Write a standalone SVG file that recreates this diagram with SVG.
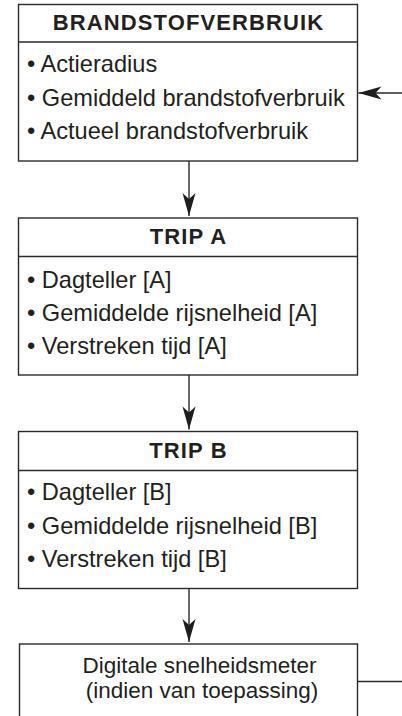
<svg xmlns="http://www.w3.org/2000/svg" width="402" height="716" viewBox="0 0 402 716">
  <style>
    .box { fill: #ffffff; stroke: #2a2a2a; stroke-width: 1.4; }
    .div { stroke: #2a2a2a; stroke-width: 1.4; }
    .hdr { font-family: "Liberation Sans", Arial, sans-serif; font-weight: bold; font-size: 22px; letter-spacing: 1.1px; fill: #231f20; text-anchor: middle; }
    .item { font-family: "Liberation Sans", Arial, sans-serif; font-size: 23.6px; fill: #231f20; }
    .ctr { font-family: "Liberation Sans", Arial, sans-serif; font-size: 22.5px; fill: #231f20; text-anchor: middle; }
    .conn { fill: none; stroke: #2a2a2a; stroke-width: 1.4; }
  </style>
  <defs>
    <marker id="arrow" viewBox="-24 -8 25 16" refX="0" refY="0" markerWidth="25" markerHeight="16" markerUnits="userSpaceOnUse" orient="auto">
      <path d="M0,0 L-23,-6.5 L-17,0 L-23,6.5 Z" fill="#1e1e1e"/>
    </marker>
  </defs>
  <rect width="402" height="716" fill="#ffffff"/>

  <g id="brandstofverbruik">
    <rect class="box" x="18.5" y="4.5" width="339" height="156.5"/>
    <line class="div" x1="18.5" y1="42" x2="357.5" y2="42"/>
    <text class="hdr" x="188.5" y="30">BRANDSTOFVERBRUIK</text>
    <text class="item" x="27" y="72">• Actieradius</text>
    <text class="item" x="27" y="105.5">• Gemiddeld brandstofverbruik</text>
    <text class="item" x="27" y="138.5">• Actueel brandstofverbruik</text>
  </g>

  <g id="trip-a">
    <rect class="box" x="18.5" y="218" width="339" height="157"/>
    <line class="div" x1="18.5" y1="256.5" x2="357.5" y2="256.5"/>
    <text class="hdr" x="188.5" y="244">TRIP A</text>
    <text class="item" x="27" y="287.5">• Dagteller [A]</text>
    <text class="item" x="27" y="320.5">• Gemiddelde rijsnelheid [A]</text>
    <text class="item" x="27" y="353.5">• Verstreken tijd [A]</text>
  </g>

  <g id="trip-b">
    <rect class="box" x="18.5" y="431.5" width="339" height="157"/>
    <line class="div" x1="18.5" y1="470.5" x2="357.5" y2="470.5"/>
    <text class="hdr" x="188.5" y="458">TRIP B</text>
    <text class="item" x="27" y="500">• Dagteller [B]</text>
    <text class="item" x="27" y="533.5">• Gemiddelde rijsnelheid [B]</text>
    <text class="item" x="27" y="566.5">• Verstreken tijd [B]</text>
  </g>

  <g id="digitale-snelheidsmeter">
    <rect class="box" x="19.5" y="644" width="338" height="90"/>
    <text class="ctr" x="199.5" y="673">Digitale snelheidsmeter</text>
    <text class="ctr" x="202" y="698">(indien van toepassing)</text>
  </g>

  <g id="connectors">
    <line class="conn" x1="189" y1="161" x2="189" y2="216" marker-end="url(#arrow)"/>
    <line class="conn" x1="189" y1="375" x2="189" y2="429.5" marker-end="url(#arrow)"/>
    <line class="conn" x1="189" y1="588.5" x2="189" y2="642" marker-end="url(#arrow)"/>
    <line class="conn" x1="402" y1="93" x2="358.5" y2="93" marker-end="url(#arrow)"/>
    <line class="conn" x1="357.5" y1="681.5" x2="402" y2="681.5"/>
  </g>
</svg>
